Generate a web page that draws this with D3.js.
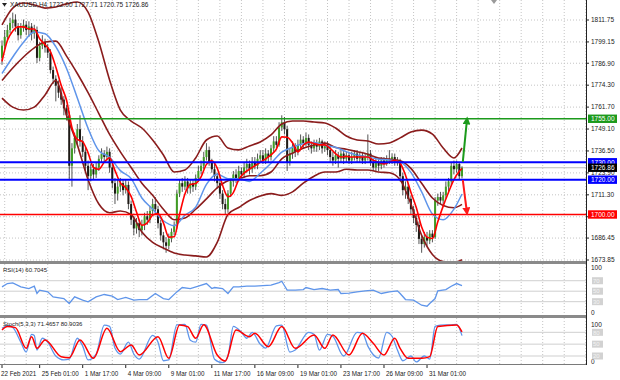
<!DOCTYPE html>
<html>
<head>
<meta charset="utf-8">
<script src="https://cdn.jsdelivr.net/npm/d3@7"></script>
<style>
  html, body { margin: 0; padding: 0; background: #fff; }
  svg { display: block; font-family: "Liberation Sans", Arial, sans-serif; }
</style>
</head>
<body>
<div id="graf"></div>
<script>
// Velas XAUUSD H4
const opens = [1790,1797,1802,1806,1810,1812,1808,1803,1807,1809,1806,1808,1804,1806,1790,1797,1799,1796,1793,1783,1778,1774,1770,1766,1761,1757,1728,1738,1744,1749,1742,1736,1728,1722,1726,1723,1727,1732,1735,1733,1736,1727,1718,1712,1716,1718,1714,1717,1706,1697,1692,1695,1691,1694,1699,1697,1702,1706,1703,1695,1688,1684,1682,1686,1690,1694,1712,1718,1716,1719,1715,1718,1716,1721,1725,1728,1733,1737,1730,1726,1722,1718,1712,1706,1703,1712,1719,1723,1721,1725,1723,1727,1729,1726,1730,1728,1732,1734,1731,1735,1733,1738,1742,1740,1750,1753,1749,1730,1735,1739,1736,1740,1743,1741,1744,1740,1738,1741,1739,1742,1738,1740,1737,1733,1731,1734,1732,1735,1732,1734,1731,1733,1735,1732,1734,1731,1733,1735,1730,1727,1730,1728,1731,1729,1732,1731,1733,1730,1731,1722,1714,1716,1709,1703,1698,1694,1686,1683,1687,1685,1689,1687,1708,1710,1708,1711,1716,1719,1728,1726,1729,1722]
const highs = [1800,1806,1809,1813,1816,1815,1810,1810,1812,1811,1811,1810,1809,1808,1799,1803,1801,1798,1795,1785,1780,1777,1773,1768,1763,1759,1741,1747,1752,1757,1745,1739,1731,1729,1729,1730,1734,1738,1737,1739,1738,1729,1721,1720,1721,1720,1720,1719,1708,1699,1698,1697,1697,1701,1702,1705,1709,1710,1705,1697,1690,1687,1689,1692,1696,1714,1720,1721,1722,1721,1720,1720,1723,1728,1731,1736,1741,1739,1732,1729,1724,1720,1714,1709,1714,1721,1725,1726,1728,1727,1730,1732,1731,1733,1733,1735,1737,1737,1738,1737,1740,1745,1745,1753,1757,1756,1751,1738,1742,1741,1743,1746,1745,1747,1746,1742,1743,1743,1744,1743,1742,1742,1739,1736,1737,1736,1738,1737,1736,1736,1736,1737,1737,1736,1736,1735,1746,1737,1732,1732,1732,1733,1733,1734,1737,1735,1735,1733,1732,1724,1719,1718,1711,1705,1700,1696,1688,1690,1690,1691,1691,1710,1712,1713,1713,1719,1721,1730,1731,1731,1730,1727.71]
const lows = [1786,1795,1800,1804,1807,1805,1800,1801,1805,1803,1802,1800,1801,1787,1788,1795,1793,1790,1781,1775,1765,1767,1763,1757,1754,1720,1716,1735,1740,1739,1733,1725,1714,1719,1720,1721,1725,1730,1730,1731,1724,1715,1706,1708,1713,1711,1712,1703,1694,1688,1689,1687,1688,1691,1694,1695,1700,1700,1692,1685,1680,1678,1680,1684,1688,1692,1710,1713,1714,1712,1712,1713,1714,1719,1723,1726,1731,1728,1724,1719,1715,1709,1703,1700,1701,1710,1716,1718,1719,1720,1721,1724,1723,1724,1726,1726,1730,1729,1729,1730,1731,1736,1738,1739,1748,1746,1725,1728,1732,1733,1734,1738,1738,1739,1737,1735,1736,1736,1737,1735,1736,1734,1730,1728,1729,1727,1730,1729,1730,1729,1729,1731,1730,1730,1729,1729,1731,1728,1725,1725,1725,1726,1727,1728,1729,1729,1728,1728,1719,1711,1709,1706,1700,1695,1690,1683,1678,1681,1682,1683,1684,1686,1705,1706,1706,1709,1713,1717,1723,1724,1720,1720.75]
const closes = [1797,1802,1806,1810,1812,1808,1803,1807,1809,1806,1808,1804,1806,1790,1797,1799,1796,1793,1783,1778,1774,1770,1766,1761,1757,1728,1738,1744,1749,1742,1736,1728,1722,1726,1723,1727,1732,1735,1733,1736,1727,1718,1712,1716,1718,1714,1717,1706,1697,1692,1695,1691,1694,1699,1697,1702,1706,1703,1695,1688,1684,1682,1686,1690,1694,1712,1718,1716,1719,1715,1718,1716,1721,1725,1728,1733,1737,1730,1726,1722,1718,1712,1706,1703,1712,1719,1723,1721,1725,1723,1727,1729,1726,1730,1728,1732,1734,1731,1735,1733,1738,1742,1740,1750,1753,1749,1730,1735,1739,1736,1740,1743,1741,1744,1740,1738,1741,1739,1742,1738,1740,1737,1733,1731,1734,1732,1735,1732,1734,1731,1733,1735,1732,1734,1731,1733,1735,1730,1727,1730,1728,1731,1729,1732,1731,1733,1730,1731,1722,1714,1716,1709,1703,1698,1694,1686,1683,1687,1685,1689,1687,1708,1710,1708,1711,1716,1719,1728,1726,1729,1722,1726.86]

// Bandas de Bollinger y media azul (cada 4 velas)
const lineBars = [0,4,8,12,16,20,24,28,32,36,40,44,48,52,56,60,64,68,72,76,80,84,88,92,96,100,104,108,112,116,120,124,128,132,136,140,144,148,152,156,160,164,168,171]
const bbUpper = [1808.9,1818.6,1821.5,1820.4,1818.6,1819.2,1821,1822.1,1816.3,1799.1,1777.3,1760,1753.7,1749.7,1742.8,1734.2,1724.4,1725.6,1732.5,1742.8,1745.1,1738.2,1737.1,1739.4,1741.7,1745.7,1752,1753.7,1753.7,1753.1,1752.6,1749.7,1745.1,1742.8,1742.2,1740.5,1741.1,1744,1747.4,1748.5,1746.2,1738.2,1732.5,1738.2]
const bbMiddle = [1777,1784.2,1790.5,1795.7,1799.1,1799.6,1791,1781,1770,1758,1746,1736,1727,1718,1711,1703,1697,1698,1703,1709,1715.3,1719.4,1720.5,1722.3,1722.3,1724.4,1732,1735.2,1738,1739.9,1741,1738.5,1737.5,1736.1,1734.6,1732.4,1731.8,1730.9,1726.5,1717.9,1709.5,1705.2,1703.9,1705.8]
const bbLower = [1766.9,1761.7,1760,1761.7,1768.7,1777,1757,1740,1720,1706,1701,1702,1700,1690,1684,1680.7,1677.9,1676.7,1676.2,1675.6,1684,1700,1704,1708,1710.6,1712,1711,1713,1718,1722,1724.4,1724.4,1726,1725.6,1725.6,1724.4,1724,1720,1706,1688,1677,1673,1672.5,1674]
const maBlue = [1781,1790.5,1799,1804.9,1803.9,1796.4,1783.9,1766.9,1749.5,1736.6,1732.9,1725.2,1720.6,1709.5,1703.1,1696.4,1693.6,1699.6,1704.2,1717.3,1723.1,1720.6,1720.5,1719,1723.7,1729.4,1735.8,1738.6,1740.6,1741.4,1739.7,1738.6,1736.1,1734.1,1733,1731.8,1731.3,1730.1,1724.2,1713,1700.3,1697,1703.1,1711.8]

// Media rápida roja (cada 2 velas)
const redBars = [0,2,4,6,8,10,12,14,16,18,20,22,24,26,28,30,32,34,36,38,40,42,44,46,48,50,52,54,56,58,60,62,64,66,68,70,72,74,76,78,80,82,84,86,88,90,92,94,96,98,100,102,104,106,108,110,112,114,116,118,120,122,124,126,128,130,132,134,136,138,140,142,144,146,148,150,152,154,156,158,160,162,164,166,168,170,171]
const maRed = [1788,1800,1805.4,1807.8,1807.8,1806.6,1806.6,1801,1797.6,1793.6,1784.8,1774.2,1765.6,1750,1743.2,1741.8,1735.4,1727,1726,1730,1732.6,1725.2,1718.2,1715.4,1710.4,1701.4,1693.8,1695.2,1699.6,1700.6,1695.2,1687,1687.2,1700,1711.8,1717.2,1717.8,1721.6,1728.8,1730.8,1726.6,1716.8,1710.2,1712.6,1720,1723.8,1726,1728,1730,1732,1734.2,1737.6,1744.6,1744.4,1741.2,1736,1739.8,1741.6,1740.8,1740,1740,1738,1735,1733,1733.4,1733,1733,1733,1733,1731.2,1730,1729,1730.2,1731,1729.4,1722.6,1712.8,1704,1692.8,1687,1686.2,1695.8,1704.8,1712.8,1720,1724.8,1726.4]

// RSI(14)
const rsiBars = [0,2,4,7,10,12,13,14,17,19,23,25,27,30,32,35,38,41,43,46,49,51,54,57,60,62,65,67,70,73,76,78,79,82,84,86,88,91,94,97,100,103,104,106,109,112,113,116,119,122,125,126,129,132,135,138,141,144,147,148,150,153,156,158,159,161,162,165,167,169,171]
const rsiVals = [58.3,64.6,65.9,58.3,55.1,59.5,45.6,51.9,48.7,39.2,36,26.5,39.2,32.9,29.7,39.2,43.7,40.5,34.1,38,32.9,34.1,34.1,45.6,36,34.1,48.7,57,55.1,59.5,64.6,55.1,57,55.1,45.6,58.3,58.3,59.5,59.5,60.8,61.4,66.5,69,51.9,51.9,53.2,57,53.2,55.1,51.9,53.2,45.6,46.2,48.7,50.6,51.9,45.6,48.7,50.6,45.6,34.1,32.9,23.3,21.4,26.5,36,50.6,53.2,59.5,64.6,60.7]

// Estocástico (5,3,3): línea principal y señal
const mainBars = [0,2,4,7,9,11,12,13,15,17,20,23,25,28,30,32,35,38,40,42,44,47,49,51,56,58,60,62,65,68,70,72,74,76,79,82,84,86,89,91,93,96,98,102,104,107,109,114,116,118,121,123,127,132,134,136,140,143,145,147,149,152,154,157,159,161,163,167,169,171]
const stochMain = [90,97,92,55,30,75,72,35,65,55,20,10,12,65,45,10,25,98,95,40,25,55,25,12,72,55,8,10,99,100,60,55,100,98,12,3,20,95,80,65,80,50,40,96,98,30,35,80,75,35,75,70,20,80,78,45,15,80,70,35,8,20,5,20,12,95,98,99,100,71.5]
const sigBars = [0,2,5,9,11,13,16,22,25,29,34,39,44,48,51,58,62,66,69,72,75,80,83,87,92,94,99,104,109,116,120,123,129,134,138,142,146,148,151,156,159,162,169,171]
const stochSignal = [85.9,94.4,91.8,39.4,69,39.4,60.6,18.3,15.8,60.6,14.1,90.1,31,47.9,22.5,69,14.1,98.6,94.4,64.8,99,22.5,7.3,85.9,69,77.5,43.7,94.4,39.4,73.2,39.4,73.2,22.5,77.5,52.1,22.5,64.8,39.4,14.1,14.1,18.3,94.4,98.6,80.9]

// Escala de precios y fechas
const priceTicks = [1811.75,1799.15,1786.90,1774.30,1761.70,1749.10,1736.50,1723.90,1711.30,1698.70,1686.45,1673.85]
const timeLabels = ['22 Feb 2021','25 Feb 01:00','1 Mar 17:00','4 Mar 09:00','9 Mar 01:00','11 Mar 17:00','16 Mar 09:00','19 Mar 01:00','23 Mar 17:00','26 Mar 09:00','31 Mar 01:00']
const timeBars = [0,14,30,46,62,78,94,110,126,142,158]

// Niveles horizontales y flechas
const levelPrices = [1755, 1730, 1720, 1700]
const levelColors = ['#1c9a1c', '#0000ff', '#0000ff', '#ff0000']
const levelWidths = [1.5, 2, 2, 1.5]
const bidPrice = 1726.86
const arrowFrom = [1730.2, 1719.8]
const arrowTo = [1755.4, 1700.3]
const arrowColors = ['#1c9a1c', '#ff1a1a']

function dibujar() {
    const ancho = 620
    const alto = 380
    const ejeX = 586

    const svg = d3.select('#graf')
        .append('svg')
        .attr('width', ancho)
        .attr('height', alto)

    // paneles
    const main = { top: 0, bottom: 261 }
    const rsiP = { top: 264, bottom: 315 }
    const stoP = { top: 318, bottom: 364 }

    const x = d3.scaleLinear().domain([0, 171]).range([2, 462])
    const y = d3.scaleLinear().domain([1673.85, 1811.75]).range([260, 20])
    const yRsi = d3.scaleLinear().domain([0, 100]).range([317.4, 265])
    const ySto = d3.scaleLinear().domain([0, 100]).range([363.9, 324.4])

    const defs = svg.append('defs')
    ;[['clipMain', main], ['clipRsi', rsiP], ['clipSto', stoP]].forEach(([id, p]) => {
        defs.append('clipPath').attr('id', id)
            .append('rect').attr('x', 0).attr('y', p.top)
            .attr('width', ejeX).attr('height', p.bottom - p.top)
    })
    arrowColors.forEach((c, i) => {
        defs.append('marker').attr('id', 'flecha' + i)
            .attr('viewBox', '0 0 10 10').attr('refX', 8).attr('refY', 5)
            .attr('markerWidth', 4).attr('markerHeight', 4).attr('orient', 'auto')
            .append('path').attr('d', 'M0,0 L10,5 L0,10 z').attr('fill', c)
    })

    // rejilla vertical punteada
    const gridBars = d3.range(1, 218, 8)
    ;[main, rsiP, stoP].forEach(p => {
        svg.append('g').selectAll('line').data(gridBars).enter().append('line')
            .attr('x1', d => x(d)).attr('x2', d => x(d))
            .attr('y1', p.top).attr('y2', p.bottom)
            .attr('stroke', '#c4c4c4').attr('stroke-dasharray', '1,2')
    })
    // rejilla horizontal
    svg.append('g').selectAll('line').data(priceTicks).enter().append('line')
        .attr('x1', 0).attr('x2', ejeX)
        .attr('y1', d => y(d)).attr('y2', d => y(d))
        .attr('stroke', '#c4c4c4').attr('stroke-dasharray', '1,2')

    // niveles RSI y estocástico
    svg.append('g').selectAll('line').data([70, 50, 30]).enter().append('line')
        .attr('x1', 0).attr('x2', ejeX)
        .attr('y1', d => yRsi(d)).attr('y2', d => yRsi(d))
        .attr('stroke', '#cfcfcf')
    svg.append('g').selectAll('line').data([80, 50, 20]).enter().append('line')
        .attr('x1', 0).attr('x2', ejeX)
        .attr('y1', d => ySto(d)).attr('y2', d => ySto(d))
        .attr('stroke', '#cfcfcf')

    const gMain = svg.append('g').attr('clip-path', 'url(#clipMain)')

    // línea de precio actual
    gMain.append('line')
        .attr('x1', 0).attr('x2', ejeX)
        .attr('y1', y(bidPrice)).attr('y2', y(bidPrice))
        .attr('stroke', '#bdbdbd')

    // velas
    const velas = gMain.append('g').selectAll('g').data(closes).enter().append('g')
    velas.append('line')
        .attr('x1', (d, i) => x(i)).attr('x2', (d, i) => x(i))
        .attr('y1', (d, i) => y(highs[i])).attr('y2', (d, i) => y(lows[i]))
        .attr('stroke', '#2a2a2a').attr('stroke-width', 0.8)
    velas.append('rect')
        .attr('x', (d, i) => x(i) - 1)
        .attr('width', 2)
        .attr('y', (d, i) => y(Math.max(opens[i], d)))
        .attr('height', (d, i) => Math.max(1, Math.abs(y(opens[i]) - y(d))))
        .attr('fill', (d, i) => d >= opens[i] ? '#3f9c24' : '#1e1a16')

    // indicadores
    const linea = (bars, vals, ys) => d3.line()
        .x((d, i) => x(bars[i])).y(d => ys(d))
        .curve(d3.curveMonotoneX)(vals)

    ;[bbUpper, bbMiddle, bbLower].forEach(v => {
        gMain.append('path').attr('d', linea(lineBars, v, y))
            .attr('fill', 'none').attr('stroke', '#8a1c1c').attr('stroke-width', 1.6)
    })
    gMain.append('path').attr('d', linea(lineBars, maBlue, y))
        .attr('fill', 'none').attr('stroke', '#5f95ea').attr('stroke-width', 1.5)
    gMain.append('path').attr('d', linea(redBars, maRed, y))
        .attr('fill', 'none').attr('stroke', '#ff0000').attr('stroke-width', 1.6)

    // niveles horizontales
    gMain.append('g').selectAll('line').data(levelPrices).enter().append('line')
        .attr('x1', 0).attr('x2', ejeX)
        .attr('y1', d => y(d)).attr('y2', d => y(d))
        .attr('stroke', (d, i) => levelColors[i])
        .attr('stroke-width', (d, i) => levelWidths[i])

    // flechas
    arrowFrom.forEach((p, i) => {
        gMain.append('line')
            .attr('x1', x(171.3)).attr('y1', y(p))
            .attr('x2', x(172.9)).attr('y2', y(arrowTo[i]))
            .attr('stroke', arrowColors[i]).attr('stroke-width', 2)
            .attr('marker-end', `url(#flecha${i})`)
    })

    // RSI
    svg.append('path').attr('clip-path', 'url(#clipRsi)')
        .attr('d', d3.line().x((d, i) => x(rsiBars[i])).y(d => yRsi(d))(rsiVals))
        .attr('fill', 'none').attr('stroke', '#5f95ea').attr('stroke-width', 1.3)

    // Estocástico
    const gSto = svg.append('g').attr('clip-path', 'url(#clipSto)')
    gSto.append('path').attr('d', linea(mainBars, stochMain, ySto))
        .attr('fill', 'none').attr('stroke', '#5f95ea').attr('stroke-width', 1.3)
    gSto.append('path').attr('d', linea(sigBars, stochSignal, ySto))
        .attr('fill', 'none').attr('stroke', '#ff0000').attr('stroke-width', 1.5)

    // separadores de paneles
    svg.append('rect').attr('x', 0).attr('y', 261).attr('width', ejeX).attr('height', 3).attr('fill', '#8a8a8a')
    svg.append('rect').attr('x', 0).attr('y', 315).attr('width', ejeX).attr('height', 3).attr('fill', '#8a8a8a')
    svg.append('rect').attr('x', 0).attr('y', 364).attr('width', ejeX).attr('height', 1).attr('fill', '#7a7a7a')
    svg.append('line').attr('x1', ejeX + 0.5).attr('x2', ejeX + 0.5).attr('y1', 0).attr('y2', 365)
        .attr('stroke', '#222')

    // etiquetas de precio (las tapadas por una caja no se escriben)
    const cajas = levelPrices.map((p, i) => [p, levelColors[i]]).concat([[bidPrice, '#000']])
    const tapada = p => cajas.some(([c]) => Math.abs(y(c) - y(p)) < 3)
    const ejeDer = svg.append('g').attr('font-size', 6.5).attr('fill', '#222')
    priceTicks.forEach(p => {
        ejeDer.append('line').attr('x1', ejeX).attr('x2', ejeX + 3)
            .attr('y1', y(p)).attr('y2', y(p)).attr('stroke', '#222')
        if (!tapada(p)) {
            ejeDer.append('text').attr('x', ejeX + 5).attr('y', y(p) + 2.3).text(p.toFixed(2))
        }
    })

    // cajas de niveles
    cajas.forEach(([p, c]) => {
        svg.append('rect').attr('x', ejeX + 2).attr('y', y(p) - 4.2)
            .attr('width', 29).attr('height', 8.4).attr('fill', c)
        svg.append('text').attr('x', ejeX + 5).attr('y', y(p) + 2.3)
            .attr('font-size', 6.5).attr('fill', '#fff').text(p.toFixed(2))
    })

    // escalas RSI / estocástico
    const escala = (ys, top, bottom, niveles) => {
        svg.append('text').attr('x', ejeX + 5).attr('y', top).attr('font-size', 6.5).attr('fill', '#222').text('100')
        svg.append('text').attr('x', ejeX + 5).attr('y', bottom).attr('font-size', 6.5).attr('fill', '#222').text('0')
        niveles.forEach(n => {
            svg.append('rect').attr('x', ejeX + 6).attr('y', ys(n) - 3.5).attr('width', 11).attr('height', 7).attr('fill', '#d2d2d2')
            svg.append('text').attr('x', ejeX + 7).attr('y', ys(n) + 2.2).attr('font-size', 6).attr('fill', '#f2f2f2').text(n)
        })
    }
    escala(yRsi, 270, 315, [70, 50, 30])
    escala(ySto, 327, 364, [80, 50, 20])

    // fechas
    const ejeT = svg.append('g').attr('font-size', 6.3).attr('fill', '#222')
    timeLabels.forEach((t, i) => {
        ejeT.append('line').attr('x1', x(timeBars[i])).attr('x2', x(timeBars[i]))
            .attr('y1', 365).attr('y2', 368).attr('stroke', '#222')
        ejeT.append('text').attr('x', i === 0 ? 1 : x(timeBars[i]) + 2).attr('y', 376).text(t)
    })

    // títulos
    svg.append('path').attr('d', 'M2,3 L7,3 L4.5,6.5 z').attr('fill', '#222')
    svg.append('text').attr('x', 10).attr('y', 7).attr('font-size', 6.5).attr('fill', '#222')
        .text('XAUUSD,H4  1722.00 1727.71 1720.75 1726.86')
    svg.append('text').attr('x', 3).attr('y', 272).attr('font-size', 6).attr('fill', '#222')
        .text('RSI(14) 60.7045')
    svg.append('text').attr('x', 3).attr('y', 326).attr('font-size', 6).attr('fill', '#222')
        .text('Stoch(5,3,3) 71.4657 80.9036')
    svg.append('path').attr('d', 'M491,0 L497,0 L494,4 z').attr('fill', '#9a9a9a')
}

dibujar()
</script>
</body>
</html>
